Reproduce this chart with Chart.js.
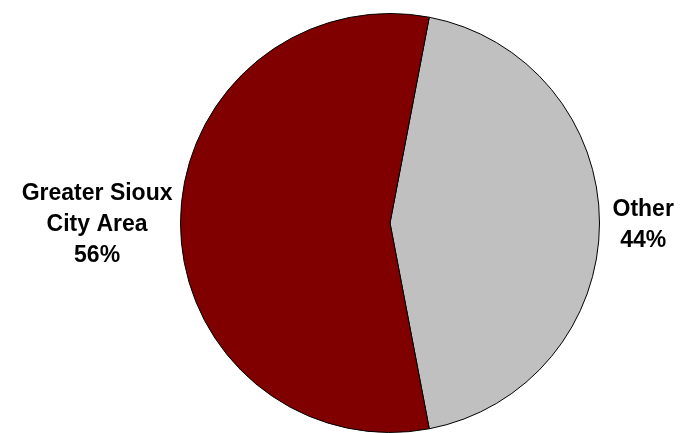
<!DOCTYPE html>
<html>
<head>
<meta charset="utf-8">
<script src="https://cdn.jsdelivr.net/npm/chart.js@4/dist/chart.umd.min.js"></script>
<style>
    body { margin: 0; background: #fff; }
    #wrap { width: 680px; height: 433px; }
</style>
</head>
<body>
<div id="wrap"><canvas id="pieChart" width="680" height="433"></canvas></div>
<script>
// chart data
const labels = ['Other', 'Greater Sioux City Area'];
const labelLines = [['Other', '44%'], ['Greater Sioux', 'City Area', '56%']];
const shares = [44, 56];
const colors = ['#C0C0C0', '#800000'];

// draws the multi-line labels just outside each slice
const outsideLabels = {
    id: 'outsideLabels',
    afterDatasetsDraw(chart) {
        const ctx = chart.ctx;
        const meta = chart.getDatasetMeta(0);
        ctx.save();
        ctx.font = 'bold 23px "Liberation Sans", Arial, sans-serif';
        ctx.fillStyle = '#000';
        ctx.textAlign = 'center';
        ctx.textBaseline = 'middle';
        const lineHeight = 31;
        meta.data.forEach((arc, i) => {
            const lines = labelLines[i];
            const mid = (arc.startAngle + arc.endAngle) / 2;
            const maxW = Math.max(...lines.map(l => ctx.measureText(l).width));
            const cos = Math.cos(mid);
            const sin = Math.sin(mid);
            const gap = cos >= 0 ? 13 : 8;
            const x = arc.x + cos * (arc.outerRadius + gap) + (cos >= 0 ? 1 : -1) * maxW / 2;
            const y = arc.y + sin * (arc.outerRadius + gap) + 2;
            const top = y - (lines.length - 1) * lineHeight / 2;
            lines.forEach((line, j) => {
                ctx.fillText(line, x, top + j * lineHeight);
            });
        });
        ctx.restore();
    }
};

new Chart(document.getElementById('pieChart'), {
    type: 'pie',
    data: {
        labels: labels,
        datasets: [{
            data: shares,
            backgroundColor: colors,
            borderColor: '#000',
            borderWidth: 1
        }]
    },
    options: {
        responsive: false,
        animation: false,
        rotation: 90 - shares[0] * 1.8, // keep the "Other" slice centred on the right
        layout: { padding: { left: 100, right: 0, top: 13, bottom: 0 } },
        plugins: {
            legend: { display: false },
            tooltip: { enabled: false }
        }
    },
    plugins: [outsideLabels]
});
</script>
</body>
</html>
